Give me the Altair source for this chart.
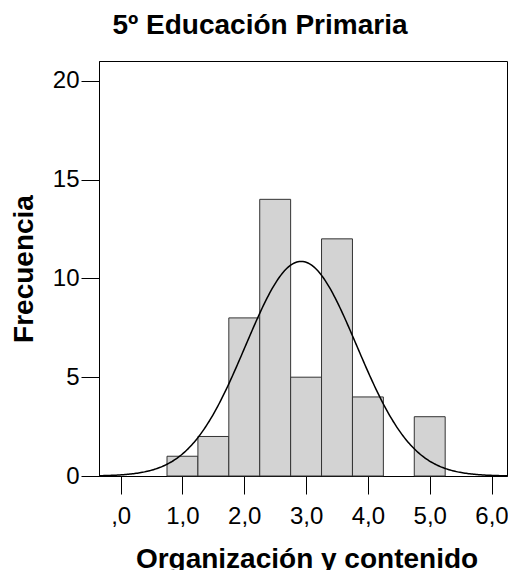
import altair as alt
import pandas as pd

# ---- data ----
bin_centers = [1.0, 1.5, 2.0, 2.5, 3.0, 3.5, 4.0, 5.0]
counts = [1, 2, 8, 14, 5, 12, 4, 3]
bin_width = 0.5
curve_mean = 2.92   # peak position of the normal curve
curve_sd = 0.90     # spread of the normal curve
x_ticks = [0, 1, 2, 3, 4, 5, 6]
y_ticks = [0, 5, 10, 15, 20]

title_text = "5º Educación Primaria"
x_title = "Organización y contenido"
y_title = "Frecuencia"

FONT = "Liberation Sans"
n_total = sum(counts)
half = bin_width / 2

bars_df = pd.DataFrame({"center": bin_centers, "count": counts})

x_scale = alt.Scale(domain=[-0.35, 6.25], nice=False, zero=False)
y_scale = alt.Scale(domain=[0, 21], nice=False, zero=True)

x_axis = alt.Axis(
    values=x_ticks,
    title=x_title,
    labelExpr="datum.value == 0 ? ',0' : replace(format(datum.value, '.1f'), '.', ',')",
    grid=False,
    tickSize=18,
    tickColor="black",
    domainColor="black",
    labelPadding=10,
    labelFont=FONT,
    labelFontSize=24,
    labelColor="black",
    titleFont=FONT,
    titleFontSize=28,
    titleFontWeight="bold",
    titleColor="black",
    titleX=207.5,
    titleY=91,
    titleAlign="center",
    titleBaseline="alphabetic",
)

y_axis = alt.Axis(
    values=y_ticks,
    title=y_title,
    grid=False,
    tickSize=18,
    tickColor="black",
    domainColor="black",
    labelPadding=2,
    labelFont=FONT,
    labelFontSize=24,
    labelColor="black",
    titleFont=FONT,
    titleFontSize=28,
    titleFontWeight="bold",
    titleColor="black",
    titleAngle=270,
    titleX=-67,
    titleY=207.5,
    titleAlign="center",
    titleBaseline="alphabetic",
)

bars = (
    alt.Chart(bars_df)
    .transform_calculate(
        start=f"datum.center - {half}",
        end=f"datum.center + {half}",
    )
    .mark_bar(fill="#d3d3d3", stroke="#333333", strokeWidth=1)
    .encode(
        x=alt.X("start:Q", scale=x_scale, axis=x_axis),
        x2="end:Q",
        y=alt.Y("count:Q", scale=y_scale, axis=y_axis),
        y2=alt.datum(0),
    )
)

curve = (
    alt.Chart(alt.sequence(-0.35, 6.26, 0.02, as_="x"))
    .transform_calculate(
        y=f"{n_total} * {bin_width} * exp(-0.5 * pow((datum.x - {curve_mean}) / {curve_sd}, 2)) / ({curve_sd} * sqrt(2 * PI))"
    )
    .mark_line(color="black", strokeWidth=1.5, clip=True)
    .encode(
        x=alt.X("x:Q", scale=x_scale, axis=x_axis),
        y=alt.Y("y:Q", scale=y_scale, axis=y_axis),
    )
)

chart = (
    alt.layer(bars, curve)
    .properties(
        width=408,
        height=415,
        autosize=alt.AutoSizeParams(type="none"),
        padding={"left": 91, "top": 53, "right": 1, "bottom": 94},
        title=alt.TitleParams(
            text=title_text,
            font=FONT,
            fontSize=28,
            fontWeight="bold",
            color="black",
            anchor="middle",
            dx=-43,
            dy=4,
            offset=3,
            baseline="alphabetic",
        ),
    )
    .configure_view(stroke="black", strokeWidth=1)
)

chart.save("out.html", embed_options={"renderer": "svg", "actions": False})
